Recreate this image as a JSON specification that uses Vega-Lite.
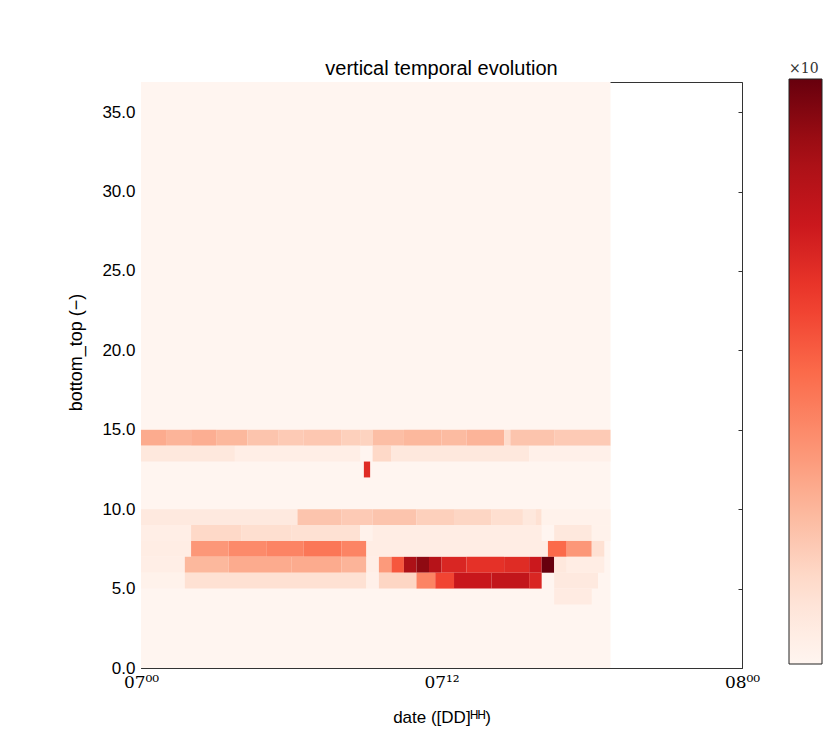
{
  "$schema": "https://vega.github.io/schema/vega-lite/v6.json",
  "width": 601,
  "height": 586,
  "autosize": {"type": "none"},
  "padding": {"left": 141, "top": 82, "right": 82, "bottom": 69},
  "background": "white",
  "title": {"text": "vertical temporal evolution", "font": "Liberation Sans", "fontSize": 20, "fontWeight": "normal", "color": "black", "offset": -17},
  "config": {
    "view": {"stroke": "#333", "strokeWidth": 1},
    "axis": {"grid": false, "domain": false, "tickColor": "#333", "labelColor": "black", "titleColor": "black", "titleFontWeight": "normal", "labelFlush": false, "labelOverlap": false}
  },
  "data": {
    "values": [
      {"t0": 0, "t1": 18.75, "lo": 0, "hi": 37, "v": 0},
      {"t0": 0, "t1": 1, "lo": 14, "hi": 15, "v": 0.30},
      {"t0": 1, "t1": 2, "lo": 14, "hi": 15, "v": 0.27},
      {"t0": 2, "t1": 3, "lo": 14, "hi": 15, "v": 0.29},
      {"t0": 3, "t1": 4.25, "lo": 14, "hi": 15, "v": 0.26},
      {"t0": 4.25, "t1": 5.5, "lo": 14, "hi": 15, "v": 0.22},
      {"t0": 5.5, "t1": 6.5, "lo": 14, "hi": 15, "v": 0.20},
      {"t0": 6.5, "t1": 8, "lo": 14, "hi": 15, "v": 0.21},
      {"t0": 8, "t1": 8.75, "lo": 14, "hi": 15, "v": 0.18},
      {"t0": 8.75, "t1": 9.25, "lo": 14, "hi": 15, "v": 0.17},
      {"t0": 9.25, "t1": 10.5, "lo": 14, "hi": 15, "v": 0.24},
      {"t0": 10.5, "t1": 12, "lo": 14, "hi": 15, "v": 0.26},
      {"t0": 12, "t1": 13, "lo": 14, "hi": 15, "v": 0.25},
      {"t0": 13, "t1": 14.5, "lo": 14, "hi": 15, "v": 0.27},
      {"t0": 14.5, "t1": 14.75, "lo": 14, "hi": 15, "v": 0.14},
      {"t0": 14.75, "t1": 16.5, "lo": 14, "hi": 15, "v": 0.22},
      {"t0": 16.5, "t1": 18.75, "lo": 14, "hi": 15, "v": 0.20},
      {"t0": 0, "t1": 3.75, "lo": 13, "hi": 14, "v": 0.08},
      {"t0": 3.75, "t1": 8.75, "lo": 13, "hi": 14, "v": 0.04},
      {"t0": 9.25, "t1": 10, "lo": 13, "hi": 14, "v": 0.15},
      {"t0": 10, "t1": 15.5, "lo": 13, "hi": 14, "v": 0.08},
      {"t0": 15.5, "t1": 18.75, "lo": 13, "hi": 14, "v": 0.03},
      {"t0": 8.9, "t1": 9.15, "lo": 12, "hi": 13, "v": 0.68},
      {"t0": 0, "t1": 6.25, "lo": 9, "hi": 10, "v": 0.07},
      {"t0": 6.25, "t1": 8, "lo": 9, "hi": 10, "v": 0.22},
      {"t0": 8, "t1": 9.25, "lo": 9, "hi": 10, "v": 0.20},
      {"t0": 9.25, "t1": 11, "lo": 9, "hi": 10, "v": 0.22},
      {"t0": 11, "t1": 12.5, "lo": 9, "hi": 10, "v": 0.18},
      {"t0": 12.5, "t1": 14, "lo": 9, "hi": 10, "v": 0.16},
      {"t0": 14, "t1": 15.25, "lo": 9, "hi": 10, "v": 0.13},
      {"t0": 15.25, "t1": 15.75, "lo": 9, "hi": 10, "v": 0.08},
      {"t0": 15.75, "t1": 16, "lo": 9, "hi": 10, "v": 0.12},
      {"t0": 16, "t1": 18.75, "lo": 9, "hi": 10, "v": 0.02},
      {"t0": 0, "t1": 2, "lo": 8, "hi": 9, "v": 0.04},
      {"t0": 2, "t1": 4, "lo": 8, "hi": 9, "v": 0.15},
      {"t0": 4, "t1": 6, "lo": 8, "hi": 9, "v": 0.13},
      {"t0": 6, "t1": 8.75, "lo": 8, "hi": 9, "v": 0.12},
      {"t0": 8.75, "t1": 9.25, "lo": 8, "hi": 9, "v": 0.02},
      {"t0": 9.25, "t1": 16, "lo": 8, "hi": 9, "v": 0.05},
      {"t0": 16.5, "t1": 18, "lo": 8, "hi": 9, "v": 0.08},
      {"t0": 18, "t1": 18.75, "lo": 8, "hi": 9, "v": 0.02},
      {"t0": 0, "t1": 2, "lo": 7, "hi": 8, "v": 0.05},
      {"t0": 2, "t1": 3.5, "lo": 7, "hi": 8, "v": 0.36},
      {"t0": 3.5, "t1": 5, "lo": 7, "hi": 8, "v": 0.40},
      {"t0": 5, "t1": 6.5, "lo": 7, "hi": 8, "v": 0.42},
      {"t0": 6.5, "t1": 8, "lo": 7, "hi": 8, "v": 0.46},
      {"t0": 8, "t1": 9, "lo": 7, "hi": 8, "v": 0.42},
      {"t0": 9, "t1": 16.25, "lo": 7, "hi": 8, "v": 0.05},
      {"t0": 16.25, "t1": 17, "lo": 7, "hi": 8, "v": 0.50},
      {"t0": 17, "t1": 18, "lo": 7, "hi": 8, "v": 0.36},
      {"t0": 18, "t1": 18.5, "lo": 7, "hi": 8, "v": 0.12},
      {"t0": 0, "t1": 1.75, "lo": 6, "hi": 7, "v": 0.04},
      {"t0": 1.75, "t1": 3.5, "lo": 6, "hi": 7, "v": 0.26},
      {"t0": 3.5, "t1": 6, "lo": 6, "hi": 7, "v": 0.30},
      {"t0": 6, "t1": 8, "lo": 6, "hi": 7, "v": 0.30},
      {"t0": 8, "t1": 9, "lo": 6, "hi": 7, "v": 0.27},
      {"t0": 9, "t1": 9.5, "lo": 6, "hi": 7, "v": 0.04},
      {"t0": 9.5, "t1": 10, "lo": 6, "hi": 7, "v": 0.35},
      {"t0": 10, "t1": 10.5, "lo": 6, "hi": 7, "v": 0.55},
      {"t0": 10.5, "t1": 11, "lo": 6, "hi": 7, "v": 0.85},
      {"t0": 11, "t1": 11.5, "lo": 6, "hi": 7, "v": 0.92},
      {"t0": 11.5, "t1": 12, "lo": 6, "hi": 7, "v": 0.82},
      {"t0": 12, "t1": 13, "lo": 6, "hi": 7, "v": 0.70},
      {"t0": 13, "t1": 14.5, "lo": 6, "hi": 7, "v": 0.66},
      {"t0": 14.5, "t1": 15.5, "lo": 6, "hi": 7, "v": 0.68},
      {"t0": 15.5, "t1": 16, "lo": 6, "hi": 7, "v": 0.75},
      {"t0": 16, "t1": 16.5, "lo": 6, "hi": 7, "v": 1.0},
      {"t0": 16.5, "t1": 17, "lo": 6, "hi": 7, "v": 0.08},
      {"t0": 17, "t1": 18.5, "lo": 6, "hi": 7, "v": 0.05},
      {"t0": 0, "t1": 1.75, "lo": 5, "hi": 6, "v": 0.02},
      {"t0": 1.75, "t1": 9, "lo": 5, "hi": 6, "v": 0.12},
      {"t0": 9, "t1": 9.5, "lo": 5, "hi": 6, "v": 0.03},
      {"t0": 9.5, "t1": 11, "lo": 5, "hi": 6, "v": 0.16},
      {"t0": 11, "t1": 11.75, "lo": 5, "hi": 6, "v": 0.42},
      {"t0": 11.75, "t1": 12.5, "lo": 5, "hi": 6, "v": 0.60},
      {"t0": 12.5, "t1": 14, "lo": 5, "hi": 6, "v": 0.76},
      {"t0": 14, "t1": 15.5, "lo": 5, "hi": 6, "v": 0.78},
      {"t0": 15.5, "t1": 16, "lo": 5, "hi": 6, "v": 0.70},
      {"t0": 16.5, "t1": 18.25, "lo": 5, "hi": 6, "v": 0.07},
      {"t0": 16.5, "t1": 18, "lo": 4, "hi": 5, "v": 0.06}
    ]
  },
  "layer": [
    {
      "mark": {"type": "rect", "clip": true},
      "encoding": {
        "x": {"field": "t0", "type": "quantitative", "scale": {"domain": [0, 24], "nice": false, "zero": false},
          "axis": {"orient": "bottom", "values": [0, 12, 24], "labelExpr": "datum.value == 0 ? '07⁰⁰' : datum.value == 12 ? '07¹²' : '08⁰⁰'", "labelFont": "DejaVu Serif", "labelFontSize": 17, "tickSize": -5, "labelPadding": 11, "title": "date ([DD]ᴴᴴ)", "titleFont": "Liberation Sans", "titleFontSize": 17, "titlePadding": 19}},
        "x2": {"field": "t1"},
        "y": {"field": "lo", "type": "quantitative", "scale": {"domain": [0, 36.9], "nice": false, "zero": false},
          "axis": {"orient": "left", "values": [0, 5, 10, 15, 20, 25, 30, 35], "format": ".1f", "labelFont": "Liberation Sans", "labelFontSize": 17, "tickSize": -5, "labelPadding": 11, "title": "bottom_top (−)", "titleFont": "Liberation Sans", "titleFontSize": 18, "titlePadding": 16, "titleY": 270}},
        "y2": {"field": "hi"},
        "color": {"field": "v", "type": "quantitative",
          "scale": {"type": "linear", "domain": [0, 0.125, 0.25, 0.375, 0.5, 0.625, 0.75, 0.875, 1], "range": ["#fff5f0", "#fee0d2", "#fcbba1", "#fc9272", "#fb6a4a", "#ef3b2c", "#cb181d", "#a50f15", "#67000d"], "interpolate": "rgb"},
          "legend": {"orient": "none", "legendX": 648, "legendY": -20, "direction": "vertical", "gradientLength": 585, "gradientThickness": 33, "gradientStrokeColor": "#222", "gradientStrokeWidth": 1, "title": "×10", "titleFont": "DejaVu Serif", "titleFontSize": 14, "titleFontWeight": "normal", "titleColor": "#333", "titlePadding": 3, "labelFont": "DejaVu Serif", "labelFontSize": 12, "labelOffset": 6, "tickCount": 10}}
      }
    },
    {
      "mark": {"type": "rect", "opacity": 0},
      "encoding": {
        "x": {"field": "t0", "type": "quantitative", "axis": {"orient": "top", "values": [0, 12, 24], "labels": false, "tickSize": -4, "title": null}},
        "x2": {"field": "t1"},
        "y": {"field": "lo", "type": "quantitative", "axis": {"orient": "right", "values": [0, 5, 10, 15, 20, 25, 30, 35], "labels": false, "tickSize": -4, "title": null}},
        "y2": {"field": "hi"}
      }
    }
  ],
  "resolve": {"axis": {"x": "independent", "y": "independent"}}
}
